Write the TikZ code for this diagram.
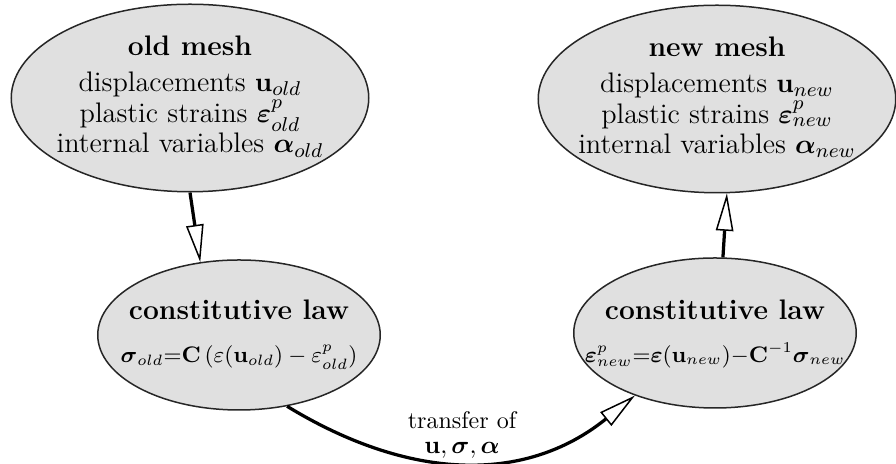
\documentclass[tikz,border=0pt]{standalone}
\usepackage{amsmath,amssymb}
\usetikzlibrary{arrows.meta,shapes.geometric}

% text block that does not widen the oval
\newcommand{\ovaltext}[1]{\makebox[0pt]{\begin{tabular}{@{}c@{}}#1\end{tabular}}}
\newcommand{\lawfont}{\fontsize{9.2pt}{11pt}\selectfont}

\begin{document}
\begin{tikzpicture}[
    x=0.4pt, y=-0.4pt,
    >={Triangle[open,length=15pt,width=7pt,line width=0.6pt 0]},
    oval/.style={
        ellipse,
        draw=black!85,
        fill=black!12,
        line width=0.6pt,
        inner sep=0pt,
        font=\fontsize{11.3pt}{12.2pt}\selectfont
    },
    meshoval/.style={oval, minimum width=143pt, minimum height=75pt},
    lawoval/.style={oval, minimum width=113pt, minimum height=60pt},
    flow/.style={->, line width=1.3pt}
]

\useasboundingbox (0,0) rectangle (896,464);

\node[meshoval] (oldmesh) at (190,98) {\ovaltext{%
    \textbf{old mesh}\\[2pt]
    displacements $\mathbf{u}_{old}$\\
    plastic strains $\boldsymbol{\varepsilon}^p_{old}$\\
    internal variables $\boldsymbol{\alpha}_{old}$}};

\node[meshoval] (newmesh) at (717,99) {\ovaltext{%
    \textbf{new mesh}\\[2pt]
    displacements $\mathbf{u}_{new}$\\
    plastic strains $\boldsymbol{\varepsilon}^p_{new}$\\
    internal variables $\boldsymbol{\alpha}_{new}$}};

\node[lawoval] (oldlaw) at (239,335) {\ovaltext{%
    \textbf{constitutive law}\\[5pt]
    \lawfont$\boldsymbol{\sigma}_{old}{=}\mathbf{C}\,(\varepsilon(\mathbf{u}_{old})-\varepsilon^p_{old})$}};

\node[lawoval] (newlaw) at (715,333) {\ovaltext{%
    \rule{0pt}{10pt}\textbf{constitutive law}\\[5pt]
    \lawfont$\boldsymbol{\varepsilon}^p_{new}{=}\boldsymbol{\varepsilon}(\mathbf{u}_{new}){-}\mathbf{C}^{-1}\boldsymbol{\sigma}_{new}$}};

\node[align=center, font=\fontsize{9.6pt}{10pt}\selectfont] (xfer) at (462,435) {transfer of\\$\mathbf{u},\boldsymbol{\sigma},\boldsymbol{\alpha}$};

\draw[flow] (oldmesh.south) -- (oldlaw.118);
\draw[flow] (newlaw.84) -- (newmesh.-84);
\draw[flow] (oldlaw.-56) .. controls (408,480) and (524,485) .. (newlaw.-142);

\end{tikzpicture}
\end{document}
